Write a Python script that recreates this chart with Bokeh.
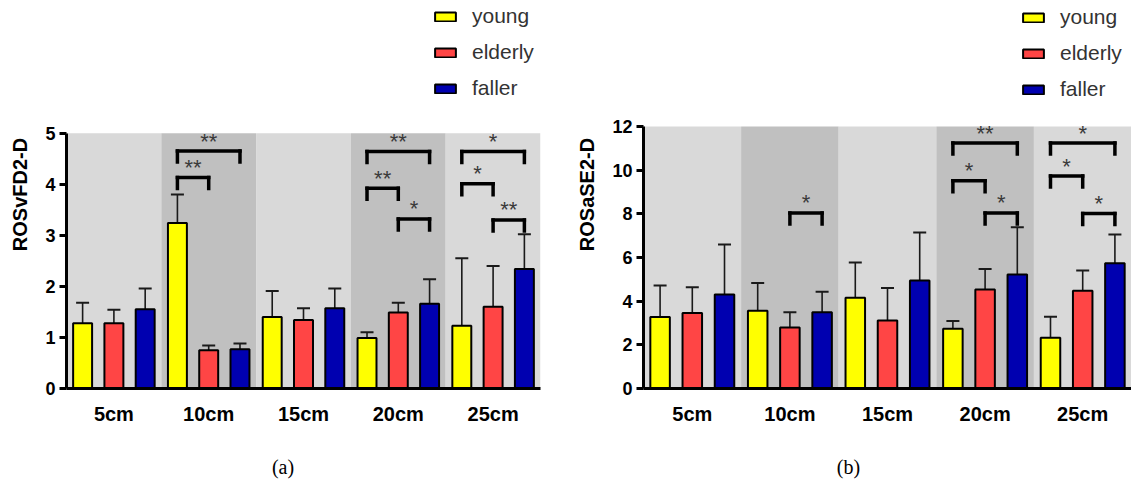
from bokeh.plotting import figure
from bokeh.models import (FactorRange, Range1d, FixedTicker, Legend, LegendItem,
                          ColumnDataSource, Div)
from bokeh.transform import dodge
from bokeh.layouts import row, column
from bokeh.embed import file_html
from bokeh.resources import INLINE
from bokeh.core.properties import value

# ---------------- data ----------------
categories = ["5cm", "10cm", "15cm", "20cm", "25cm"]
groups = ["young", "elderly", "faller"]

# panel (a): ROSvFD2-D  (mean and upper SD)
a_young = [1.28, 3.24, 1.40, 0.99, 1.23]
a_young_sd = [0.40, 0.56, 0.51, 0.11, 1.32]
a_elderly = [1.28, 0.75, 1.34, 1.49, 1.60]
a_elderly_sd = [0.26, 0.09, 0.23, 0.19, 0.80]
a_faller = [1.55, 0.77, 1.57, 1.66, 2.34]
a_faller_sd = [0.41, 0.11, 0.39, 0.48, 0.68]

a_sig_cat = ["10cm", "10cm", "20cm", "20cm", "20cm", "25cm", "25cm", "25cm"]
a_sig_from = ["young", "young", "young", "young", "elderly", "young", "young", "elderly"]
a_sig_to = ["elderly", "faller", "elderly", "faller", "faller", "elderly", "faller", "faller"]
a_sig_height = [4.13, 4.65, 3.92, 4.64, 3.32, 4.01, 4.64, 3.30]
a_sig_label = ["**", "**", "**", "**", "*", "*", "*", "**"]

# panel (b): ROSaSE2-D
b_young = [3.27, 3.56, 4.16, 2.74, 2.33]
b_young_sd = [1.45, 1.27, 1.61, 0.35, 0.96]
b_elderly = [3.46, 2.79, 3.11, 4.54, 4.48]
b_elderly_sd = [1.18, 0.70, 1.49, 0.93, 0.93]
b_faller = [4.31, 3.49, 4.95, 5.22, 5.74]
b_faller_sd = [2.28, 0.94, 2.19, 2.17, 1.31]

b_sig_cat = ["10cm", "20cm", "20cm", "20cm", "25cm", "25cm", "25cm"]
b_sig_from = ["elderly", "young", "young", "elderly", "young", "young", "elderly"]
b_sig_to = ["faller", "elderly", "faller", "faller", "elderly", "faller", "faller"]
b_sig_height = [8.04, 9.52, 11.24, 8.04, 9.73, 11.24, 8.01]
b_sig_label = ["*", "*", "**", "*", "*", "*", "*"]

a_yticks = [0, 1, 2, 3, 4, 5]
b_yticks = [0, 2, 4, 6, 8, 10, 12]

# ---------------- style ----------------
COLORS = {"young": "#ffff00", "elderly": "#ff4545", "faller": "#0000b0"}
OFFS = {"young": -0.33, "elderly": 0.0, "faller": 0.33}
BAND = ["#d9d9d9", "#c0c0c0"]
FONT = "Liberation Sans"
FIG_H = 445


def make_panel(means, sds, sig, yticks, ylabel,
               width, bl, br, data_top_px, frame_bottom, leg_x):
    ymax = yticks[-1]
    bb = FIG_H - frame_bottom
    frame_h = frame_bottom
    # the frame spans the full height so that the legend sits inside it;
    # the y range is stretched so that ymax lands at data_top_px
    y_end = ymax * frame_bottom / (frame_bottom - data_top_px)
    p = figure(x_range=FactorRange(*categories), y_range=Range1d(0, y_end),
               width=width, height=FIG_H, min_border_left=bl, min_border_right=br,
               min_border_top=0, min_border_bottom=bb,
               output_backend="svg", toolbar_location=None)
    p.outline_line_color = None
    p.xgrid.grid_line_color = None
    p.ygrid.grid_line_color = None

    # background bands
    band_src = ColumnDataSource(dict(x=categories, top=[ymax] * len(categories),
                                     c=[BAND[i % 2] for i in range(len(categories))]))
    p.vbar(x="x", top="top", bottom=0, width=1.0, fill_color="c", line_color=None,
           source=band_src)

    data = dict(cat=categories)
    for g, m, s in zip(groups, means, sds):
        data[g] = m
        data[g + "_hi"] = [a + b for a, b in zip(m, s)]
    src = ColumnDataSource(data)

    renderers = {}
    for g in groups:
        xd = dodge("cat", OFFS[g], range=p.x_range)
        p.segment(x0=xd, y0=g, x1=xd, y1=g + "_hi", line_color="#1a1a1a",
                  line_width=1.6, source=src)
        p.scatter(x=xd, y=g + "_hi", marker="dash", size=13, line_color="#1a1a1a",
                  line_width=2, source=src)
        renderers[g] = p.vbar(x=xd, top=g, width=0.2, fill_color=COLORS[g],
                              line_color="black", line_width=2, source=src)

    # significance brackets
    cats, frm, to, hts, labs = sig
    leg = 11.0 * ymax / (frame_bottom - data_top_px)
    x0 = [(c, OFFS[f]) for c, f in zip(cats, frm)]
    x1 = [(c, OFFS[t]) for c, t in zip(cats, to)]
    xm = [(c, (OFFS[f] + OFFS[t]) / 2) for c, f, t in zip(cats, frm, to)]
    bsrc = ColumnDataSource(dict(x0=x0, x1=x1, xm=xm, y=hts,
                                 yl=[h - leg for h in hts], lab=labs))
    kw = dict(line_color="black", line_width=3.5, line_cap="square", source=bsrc)
    p.segment(x0="x0", y0="y", x1="x1", y1="y", **kw)
    p.segment(x0="x0", y0="y", x1="x0", y1="yl", **kw)
    p.segment(x0="x1", y0="y", x1="x1", y1="yl", **kw)
    p.text(x="xm", y="y", text="lab", text_align="center", text_baseline="alphabetic",
           y_offset=-10, text_font=value(FONT), text_font_size="22px",
           text_color="#3a3a3a", source=bsrc)

    # axes
    for ax in (p.xaxis[0], p.yaxis[0]):
        ax.axis_line_width = 3
        ax.axis_line_color = "black"
        ax.major_label_text_font = FONT
        ax.major_label_text_font_style = "bold"
        ax.major_label_text_color = "black"
        ax.minor_tick_line_color = None
    p.xaxis.major_tick_line_color = None
    p.xaxis.major_label_text_font_size = "20px"
    p.xaxis.major_label_standoff = 8
    p.yaxis.ticker = FixedTicker(ticks=yticks)
    p.yaxis.bounds = (0, ymax)
    p.yaxis.major_tick_out = 7
    p.yaxis.major_tick_in = 0
    p.yaxis.major_tick_line_width = 3
    p.yaxis.major_label_text_font_size = "18px"
    p.yaxis.major_label_standoff = 4
    p.yaxis.axis_label = ylabel
    p.yaxis.axis_label_text_font = FONT
    p.yaxis.axis_label_text_font_style = "bold"
    p.yaxis.axis_label_text_font_size = "20px"
    p.yaxis.axis_label_text_color = "black"
    p.yaxis.axis_label_standoff = 11

    # legend in the (empty) upper part of the frame
    items = [LegendItem(label=g, renderers=[renderers[g]]) for g in groups]
    legend_h = 3 * 24 + 2 * 12
    legend = Legend(items=items, location=(leg_x, frame_h - 5 - legend_h),
                    orientation="vertical", label_text_font=FONT,
                    label_text_font_size="21px", label_text_color="#333333",
                    glyph_width=26, glyph_height=11, label_standoff=14,
                    label_height=24, spacing=12, padding=0, margin=0,
                    border_line_color=None, background_fill_alpha=0)
    p.add_layout(legend)
    return p


def caption(text, width):
    return Div(text=text, width=width, height=482 - FIG_H, margin=(0, 0, 0, 0),
               styles={"font-family": "Liberation Serif", "font-size": "20px",
                       "text-align": "center", "line-height": "44px",
                       "width": f"{width}px", "color": "black"})


pa = make_panel([a_young, a_elderly, a_faller], [a_young_sd, a_elderly_sd, a_faller_sd],
                (a_sig_cat, a_sig_from, a_sig_to, a_sig_height, a_sig_label),
                a_yticks, "ROSvFD2-D", 566, 66, 26, 133, 389, 366)
pb = make_panel([b_young, b_elderly, b_faller], [b_young_sd, b_elderly_sd, b_faller_sd],
                (b_sig_cat, b_sig_from, b_sig_to, b_sig_height, b_sig_label),
                b_yticks, "ROSaSE2-D", 565, 77, 0, 126, 388, 377)

layout = column(row(pa, pb, spacing=0),
                row(caption("(a)", 566), caption("(b)", 565), spacing=0),
                spacing=0)
open("out.html", "w").write(file_html(layout, INLINE))
